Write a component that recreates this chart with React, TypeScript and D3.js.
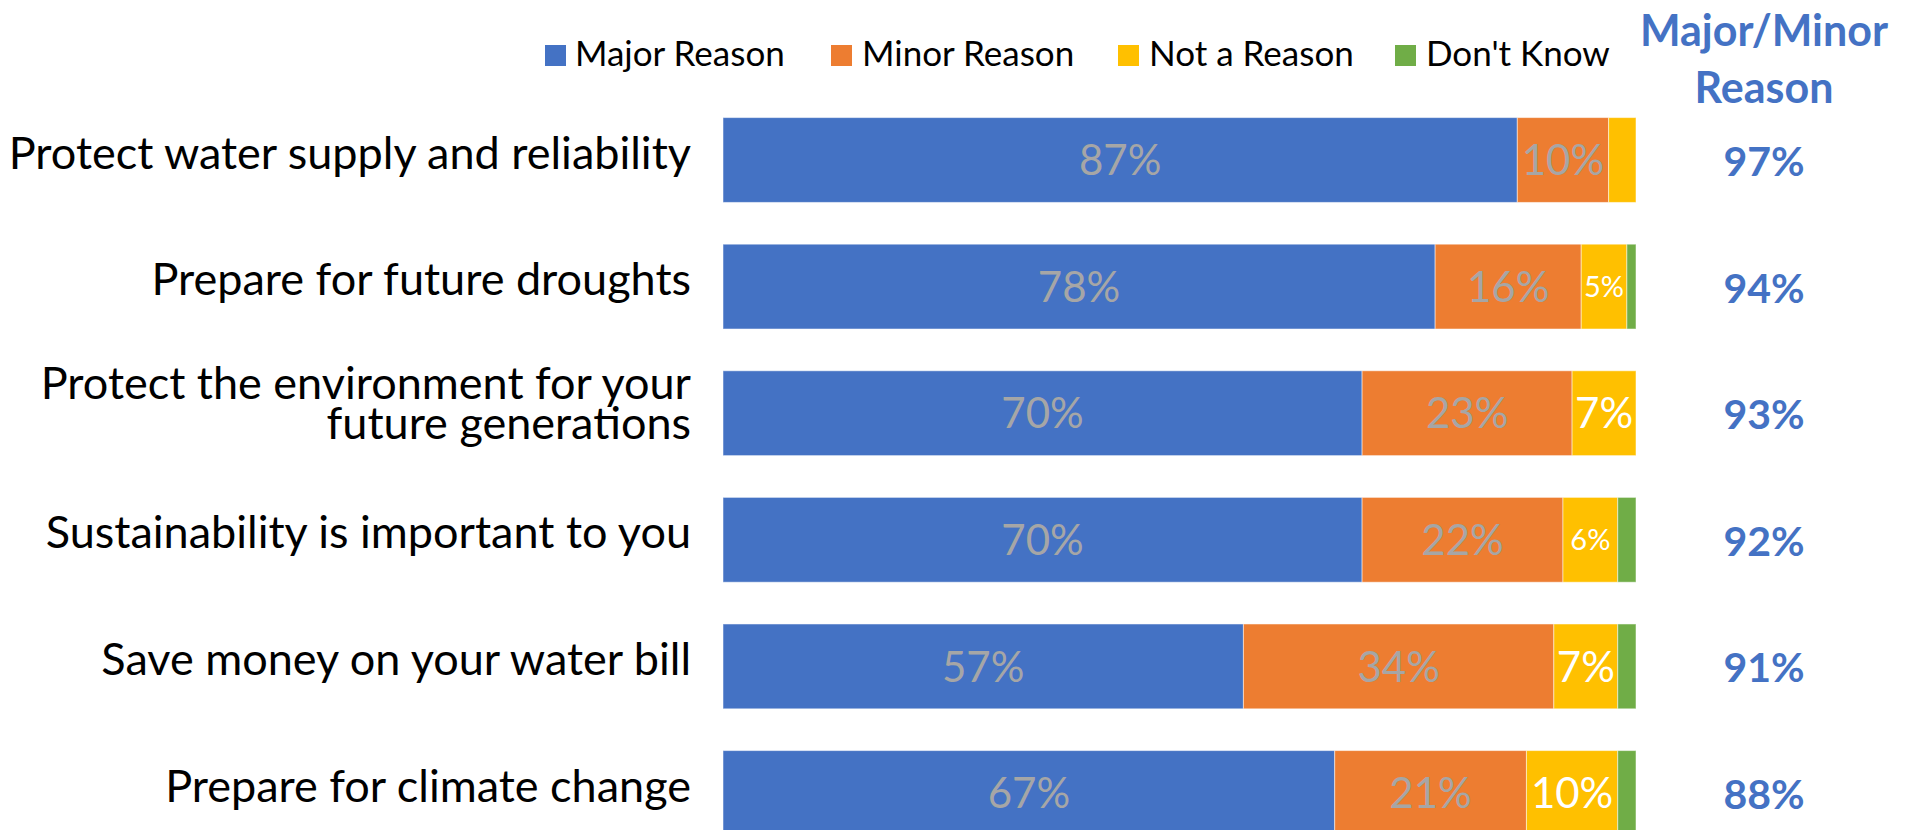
import React from "react";
import * as d3 from "d3";

const categories = [
  "Protect water supply and reliability",
  "Prepare for future droughts",
  "Protect the environment for your\nfuture generations",
  "Sustainability is important to you",
  "Save money on your water bill",
  "Prepare for climate change",
];
const seriesNames = ["Major Reason", "Minor Reason", "Not a Reason", "Don't Know"];
const majorReason = [87, 78, 70, 70, 57, 67];
const minorReason = [10, 16, 23, 22, 34, 21];
const notAReason = [3, 5, 7, 6, 7, 10];
const dontKnow = [0, 1, 0, 2, 2, 2];
const majorMinorTotal = [97, 94, 93, 92, 91, 88];
const totalHeader = ["Major/Minor", "Reason"];

const COLORS = ["#4472C4", "#ED7D31", "#FFC000", "#70AD47"];
const LABEL_COLORS = ["#A6A6A6", "#A6A6A6", "#FFFFFF", "#FFFFFF"];
const FONT = "Lato, 'Open Sans', sans-serif";

export default function App() {
  const W = 1913;
  const H = 830;
  const keys = ["major", "minor", "not", "dk"];
  const rows = categories.map((c, i) => ({
    cat: c,
    major: majorReason[i],
    minor: minorReason[i],
    not: notAReason[i],
    dk: dontKnow[i],
  }));
  const stack = d3.stack<any>().keys(keys)(rows);

  const x = d3.scaleLinear().domain([0, 100]).range([723, 1636]);
  const step = 126.6;
  const y = d3
    .scaleBand<string>()
    .domain(categories)
    .range([160 - step / 2, 160 - step / 2 + step * categories.length])
    .paddingInner(0.33)
    .paddingOuter(0.165);
  const bw = y.bandwidth();

  const legendItems = [
    { sx: 545, tx: 575 },
    { sx: 831, tx: 862 },
    { sx: 1118, tx: 1149 },
    { sx: 1395, tx: 1426 },
  ];
  const totalX = 1764;

  return (
    <svg
      width={W}
      height={H}
      style={{ position: "absolute", left: 0, top: 0, background: "#fff" }}
      fontFamily={FONT}
    >
      <rect x={0} y={0} width={W} height={H} fill="#fff" />
      {/* legend */}
      {seriesNames.map((name, i) => (
        <g key={name}>
          <rect x={legendItems[i].sx} y={45} width={21} height={21} fill={COLORS[i]} />
          <text x={legendItems[i].tx} y={66} fontSize={35} fill="#000">
            {name}
          </text>
        </g>
      ))}
      {/* header */}
      {totalHeader.map((t, i) => (
        <text
          key={t}
          x={totalX}
          y={46 + i * 57}
          fontSize={43}
          fontWeight={700}
          fill="#4472C4"
          textAnchor="middle"
        >
          {t}
        </text>
      ))}
      {/* bars */}
      {stack.map((s, si) => (
        <g key={s.key}>
          {s.map((d, i) => {
            const x0 = x(d[0]);
            const x1 = x(d[1]);
            if (x1 - x0 <= 0) return null;
            return (
              <rect
                key={i}
                x={x0}
                y={y(categories[i])!}
                width={x1 - x0}
                height={bw}
                fill={COLORS[si]}
                stroke="#ffffff"
                strokeOpacity={0.5}
                strokeWidth={1}
              />
            );
          })}
        </g>
      ))}
      {/* data labels */}
      {stack.map((s, si) => (
        <g key={"l" + s.key}>
          {s.map((d, i) => {
            const v = d[1] - d[0];
            if (si === 3 || v < 5) return null;
            const small = si === 2 && v < 7;
            const fs = small ? 29 : 42;
            const cy = y(categories[i])! + bw / 2;
            return (
              <text
                key={i}
                x={(x(d[0]) + x(d[1])) / 2}
                y={cy + fs * 0.36}
                fontSize={fs}
                fill={LABEL_COLORS[si]}
                textAnchor="middle"
              >
                {v}%
              </text>
            );
          })}
        </g>
      ))}
      {/* category labels */}
      {categories.map((c, i) => {
        const lines = c.split("\n");
        const cy = y(c)! + bw / 2;
        const lh = 40;
        const first = cy + 8.5 - ((lines.length - 1) * lh) / 2 - (lines.length > 1 ? 3 : 0);
        return (
          <text key={c} x={691} fontSize={45} fill="#000" textAnchor="end">
            {lines.map((l, li) => (
              <tspan key={li} x={691} y={first + li * lh}>
                {l}
              </tspan>
            ))}
          </text>
        );
      })}
      {/* totals */}
      {majorMinorTotal.map((v, i) => (
        <text
          key={i}
          x={totalX}
          y={y(categories[i])! + bw / 2 + 16}
          fontSize={41}
          fontWeight={700}
          fill="#4472C4"
          textAnchor="middle"
        >
          {v}%
        </text>
      ))}
    </svg>
  );
}
